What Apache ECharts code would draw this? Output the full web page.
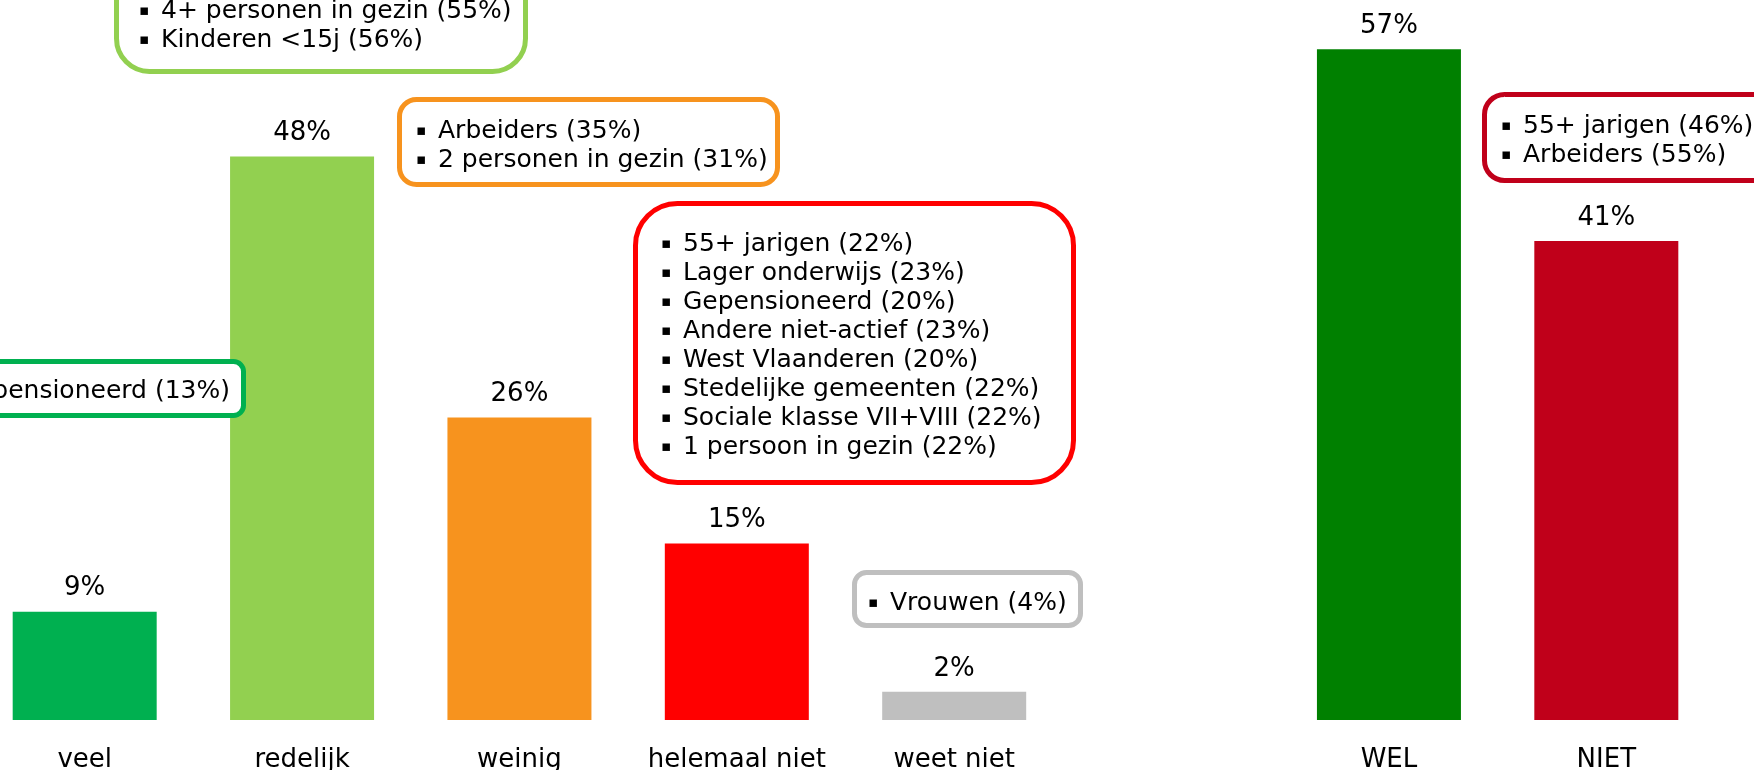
<!DOCTYPE html>
<html>
<head>
<meta charset="utf-8">
<script src="https://cdn.jsdelivr.net/npm/echarts@6/dist/echarts.min.js"></script>
<style>
  html, body { margin: 0; padding: 0; background: #fff; overflow: hidden; }
  /* chart starts a bit left of the page, first bar is cut like in the original slide */
  #chart { position: absolute; left: -24px; top: 0; width: 1778px; height: 770px; }
</style>
</head>
<body>
<div id="chart"></div>
<script>
// categories (slot 5 is the empty gap between the two groups)
const categories = ['veel', 'redelijk', 'weinig', 'helemaal niet', 'weet niet', '', 'WEL', 'NIET'];
// percentages
const values = [9.2, 47.9, 25.7, 15.0, 2.4, null, 57.0, 40.7];
const barColors = ['#00B050', '#92D050', '#F7931E', '#FF0000', '#BFBFBF', '#FFFFFF', '#008000', '#C0001A'];

// texts of the annotation boxes
const notesVeel = ['Gepensioneerd (13%)'];
const notesRedelijk = ['4+ personen in gezin (55%)', 'Kinderen <15j (56%)'];
const notesWeinig = ['Arbeiders (35%)', '2 personen in gezin (31%)'];
const notesHelemaalNiet = [
  '55+ jarigen (22%)',
  'Lager onderwijs (23%)',
  'Gepensioneerd (20%)',
  'Andere niet-actief (23%)',
  'West Vlaanderen (20%)',
  'Stedelijke gemeenten (22%)',
  'Sociale klasse VII+VIII (22%)',
  '1 persoon in gezin (22%)'
];
const notesWeetNiet = ['Vrouwen (4%)'];
const notesNiet = ['55+ jarigen (46%)', 'Arbeiders (55%)'];

const FONT = 'DejaVu Sans';
const OX = 24; // page x -> chart x (container is shifted left)

// rounded box with bullet list; L,T,R,B = outer border edges in page pixels
function noteBox(lines, color, L, T, R, B, r, tx, ty, align) {
  const lw = 5;
  const txt = { fontSize: 25, fontFamily: FONT, lineHeight: 29, fill: '#000' };
  return {
    type: 'group',
    children: [
      {
        type: 'rect', z: 100,
        shape: { x: L + OX + lw / 2, y: T + lw / 2, width: R - L - lw, height: B - T - lw, r: r },
        style: { fill: '#fff', stroke: color, lineWidth: lw }
      },
      {
        type: 'text', z: 101, x: tx + OX, y: ty + 2,
        style: {
          text: lines.map(s => '{b|\u25AA}{t|' + s + '}').join('\n'),
          align: align || 'left',
          verticalAlign: 'top',
          rich: {
            b: { width: 22, fontSize: 15, fontFamily: FONT, lineHeight: 29, fill: '#000' },
            t: txt
          }
        }
      }
    ]
  };
}

const chart = echarts.init(document.getElementById('chart'));
chart.setOption({
  animation: false,
  grid: { left: 0, right: 39, top: 14, bottom: 50, outerBoundsMode: 'none', containLabel: false },
  xAxis: {
    type: 'category',
    data: categories,
    axisLine: { show: false },
    axisTick: { show: false },
    axisLabel: {
      interval: 0,
      margin: 27,
      color: '#000',
      fontSize: 26,
      fontFamily: FONT
    }
  },
  yAxis: {
    type: 'value',
    min: 0,
    max: 60,
    show: false,
    splitLine: { show: false }
  },
  series: [{
    type: 'bar',
    barWidth: 144,
    data: values.map((v, i) => ({ value: v, itemStyle: { color: barColors[i] } })),
    label: {
      show: true,
      position: 'top',
      distance: 10,
      color: '#000',
      fontSize: 26,
      lineHeight: 26,
      fontFamily: FONT,
      formatter: p => Math.round(p.value) + '%'
    }
  }],
  graphic: [
    noteBox(notesRedelijk, '#92D050', 114, -60, 528, 74, 33, 139, -5),
    noteBox(notesVeel, '#00B050', -300, 359, 246, 418, 10, 230, 375, 'right'),
    noteBox(notesWeinig, '#F7931E', 397, 97, 780, 187, 17, 416, 115),
    noteBox(notesHelemaalNiet, '#FF0000', 633, 201, 1076, 485, 42, 661, 228),
    noteBox(notesWeetNiet, '#BFBFBF', 852, 570, 1083, 628, 12, 868, 587),
    noteBox(notesNiet, '#C0001A', 1482, 92, 1820, 183, 20, 1501, 110)
  ]
});
</script>
</body>
</html>
